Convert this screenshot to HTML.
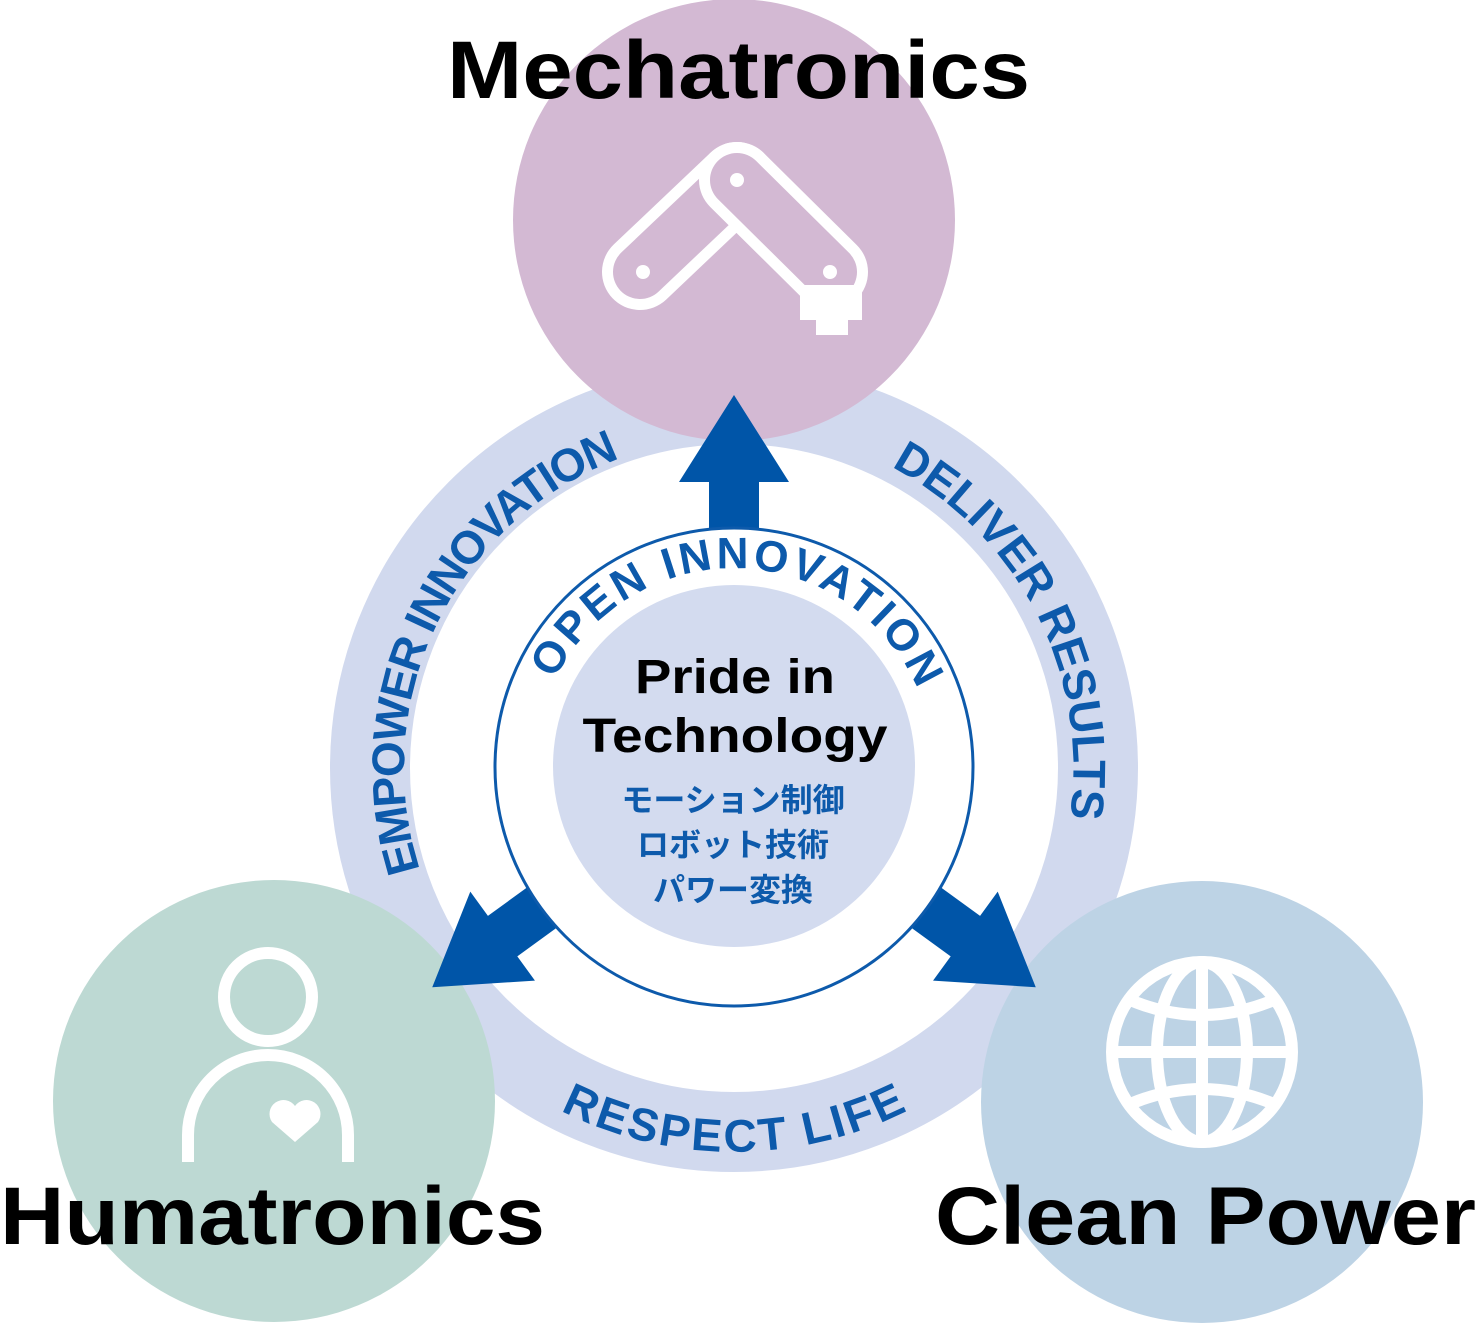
<!DOCTYPE html>
<html><head><meta charset="utf-8"><style>
html,body{margin:0;padding:0;background:#fff;}
svg{display:block;}
</style></head><body>
<svg width="1478" height="1326" viewBox="0 0 1478 1326" xmlns="http://www.w3.org/2000/svg" font-family="Liberation Sans, Noto Sans CJK JP, sans-serif">
<defs>
<path id="pEmp" d="M 424 881 A 330 330 0 0 1 677 443"/>
<path id="pDel" d="M 851 449 A 340 340 0 0 1 1053 884"/>
<path id="pRes" d="M 401 960 A 385 385 0 0 0 1067 960"/>
<path id="pOpen" d="M 546 700 A 200 200 0 0 1 927 716"/>
</defs>
<circle cx="734" cy="768" r="364" fill="none" stroke="#d1d9ee" stroke-width="80"/>
<circle cx="734" cy="220" r="221" fill="#d3b9d3"/>
<circle cx="274" cy="1101" r="221" fill="#bdd9d3"/>
<circle cx="1202" cy="1102" r="221" fill="#bdd3e5"/>
<g font-size="46" font-weight="bold" fill="#0d5aab">
<text><textPath href="#pEmp" startOffset="12" textLength="505" lengthAdjust="spacing">EMPOWER INNOVATION</textPath></text>
<text><textPath href="#pDel" startOffset="44" textLength="420" lengthAdjust="spacing">DELIVER RESULTS</textPath></text>
<text><textPath href="#pRes" startOffset="50%" text-anchor="middle" textLength="360" lengthAdjust="spacing">RESPECT LIFE</textPath></text>
</g>
<g fill="#0055a8">
<polygon id="arr" points="709,540 709,482 679,482 734,395 789,482 759,482 759,540"/>
<use href="#arr" transform="rotate(126 734 768)"/>
<use href="#arr" transform="rotate(-126 734 768)"/>
</g>
<circle cx="734" cy="767" r="239" fill="#fff" stroke="#0d5aab" stroke-width="3"/>
<circle cx="734" cy="766" r="181" fill="#d3dbef"/>
<text font-size="44" font-weight="bold" fill="#0d5aab"><textPath href="#pOpen" startOffset="22" textLength="455" lengthAdjust="spacing">OPEN INNOVATION</textPath></text>
<text x="735" y="693" font-size="48" font-weight="bold" text-anchor="middle" fill="#000" textLength="200" lengthAdjust="spacingAndGlyphs">Pride in</text>
<text x="735" y="752" font-size="48" font-weight="bold" text-anchor="middle" fill="#000" textLength="305" lengthAdjust="spacingAndGlyphs">Technology</text>
<g font-size="32" font-weight="bold" fill="#0d5aab" text-anchor="middle">
<text x="733" y="811">モーション制御</text>
<text x="733" y="856">ロボット技術</text>
<text x="733" y="901">パワー変換</text>
</g>
<g font-weight="bold" font-size="82" fill="#000">
<text x="447" y="98" textLength="583" lengthAdjust="spacingAndGlyphs">Mechatronics</text>
<text x="0" y="1244" textLength="545" lengthAdjust="spacingAndGlyphs">Humatronics</text>
<text x="935" y="1244" textLength="541" lengthAdjust="spacingAndGlyphs">Clean Power</text>
</g>
<g stroke-linecap="round">
<line x1="640" y1="272" x2="737" y2="180" stroke="#fff" stroke-width="76"/>
<line x1="640" y1="272" x2="737" y2="180" stroke="#d3b9d3" stroke-width="54"/>
<line x1="737" y1="180" x2="830" y2="272" stroke="#fff" stroke-width="76"/>
<line x1="737" y1="180" x2="830" y2="272" stroke="#d3b9d3" stroke-width="54"/>
</g>
<rect x="800" y="285" width="62" height="35" fill="#fff"/>
<rect x="816" y="315" width="32" height="20" fill="#fff"/>
<circle cx="643" cy="272" r="7" fill="#fff"/>
<circle cx="737" cy="180" r="7" fill="#fff"/>
<circle cx="830" cy="272" r="7" fill="#fff"/>
<circle cx="268" cy="997" r="44" fill="none" stroke="#fff" stroke-width="12"/>
<path d="M188 1162 V1135 A80 80 0 0 1 348 1135 V1162" fill="none" stroke="#fff" stroke-width="12"/>
<path d="M295 1142 L272 1122 A12 12 0 0 1 295 1106 A12 12 0 0 1 318 1122 Z" fill="#fff"/>
<g fill="none" stroke="#fff" stroke-width="12">
<circle cx="1202" cy="1052" r="90"/>
<ellipse cx="1202" cy="1052" rx="45" ry="90"/>
<line x1="1202" y1="962" x2="1202" y2="1142"/>
<line x1="1112" y1="1052" x2="1292" y2="1052"/>
<path d="M1130 1000 Q1202 1030 1274 1000"/>
<path d="M1130 1104 Q1202 1074 1274 1104"/>
</g>
</svg>
</body></html>
